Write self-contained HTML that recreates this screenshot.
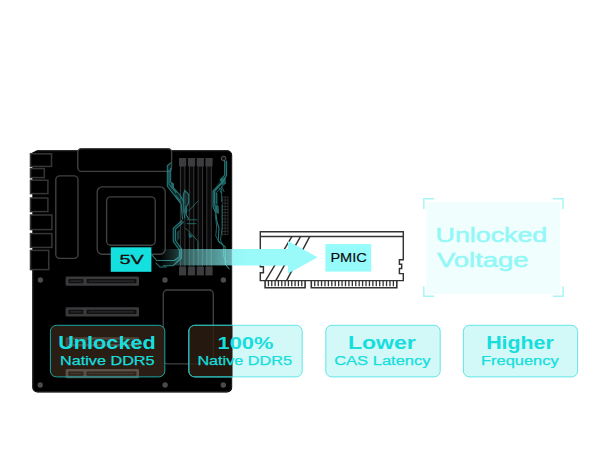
<!DOCTYPE html>
<html>
<head>
<meta charset="utf-8">
<title>Unlocked Native DDR5</title>
<style>
html,body{margin:0;padding:0;background:#fff;}
body{width:607px;height:450px;overflow:hidden;}
svg{display:block;}
text{font-family:"Liberation Sans","DejaVu Sans",sans-serif;}
.b{font-weight:bold;}
</style>
</head>
<body>
<svg width="607" height="450" viewBox="0 0 607 450">
<defs>
  <linearGradient id="beam" x1="0" y1="0" x2="1" y2="0">
    <stop offset="0" stop-color="#7fefef" stop-opacity="0"/>
    <stop offset="0.45" stop-color="#7fefef" stop-opacity="0.45"/>
    <stop offset="1" stop-color="#8df6f6" stop-opacity="0.74"/>
  </linearGradient>
  <linearGradient id="beam2" gradientUnits="userSpaceOnUse" x1="232" y1="0" x2="250" y2="0">
    <stop offset="0" stop-color="#95f7f7"/>
    <stop offset="1" stop-color="#9afafa"/>
  </linearGradient>
  <clipPath id="boardclip"><rect x="32.3" y="150" width="200" height="242.5" rx="5"/></clipPath>
  <clipPath id="offboard"><rect x="232.3" y="300" width="100" height="100"/></clipPath>
</defs>

<!-- ===== Motherboard ===== -->
<g id="board">
  <path d="M37 150.2 H227.2 a5 5 0 0 1 5 5 V387.4 a5 5 0 0 1 -5 5 H37.3 a5 5 0 0 1 -5 -5 V153.6 H30.4 Z" fill="#000"/>
  <!-- soft edge -->
  <path d="M37.4 150.9 H227 a4.5 4.5 0 0 1 4.5 4.5 V387.2 a4.5 4.5 0 0 1 -4.5 4.5 H37.5 a4.5 4.5 0 0 1 -4.5 -4.5 V270" fill="none" stroke="#1f1f20" stroke-width="1"/>

  <!-- IO ports -->
  <g fill="#000" stroke="#363638" stroke-width="1.5">
    <rect x="30.5" y="153.8" width="21" height="12.6"/>
    <rect x="30.5" y="168.6" width="13.8" height="9"/>
    <rect x="30.5" y="180.2" width="17.4" height="13.4"/>
    <rect x="30.5" y="198" width="17.4" height="13.6"/>
    <rect x="30.5" y="215" width="21.4" height="14.6"/>
    <rect x="30.5" y="233.6" width="21.4" height="13.8"/>
    <rect x="30.5" y="250.4" width="18.2" height="19.2"/>
  </g>

  <!-- component outlines -->
  <g fill="#000" stroke="#424244" stroke-width="1.35">
    <rect x="77.8" y="148.6" width="93.8" height="22.8" rx="3.5"/>
    <rect x="55.8" y="175.8" width="22.2" height="82.6" rx="4"/>
    <rect x="97.2" y="186.8" width="68" height="67.4" rx="5"/>
    <rect x="106.6" y="196.8" width="48.6" height="48.4" rx="4"/>
    <rect x="163.3" y="290" width="50" height="73.8" rx="4"/>
  </g>

  <!-- PCIe slots -->
  <g>
    <rect x="65.6" y="276.5" width="73.4" height="9.3" rx="1.2" fill="#3a3a3d"/>
    <rect x="68.4" y="279.0" width="15" height="4.3" rx="0.8" fill="#111"/>
    <rect x="86.6" y="279.0" width="49.8" height="4.3" rx="0.8" fill="#111"/>
    <path d="M70.4 281.15H81.6 M88.6 281.15H134" stroke="#2c2c2f" stroke-width="1.1" fill="none"/>
    <rect x="65.6" y="307.2" width="73.4" height="9.3" rx="1.2" fill="#3a3a3d"/>
    <rect x="68.4" y="309.7" width="15" height="4.3" rx="0.8" fill="#111"/>
    <rect x="86.6" y="309.7" width="49.8" height="4.3" rx="0.8" fill="#111"/>
    <path d="M70.4 311.85H81.6 M88.6 311.85H134" stroke="#2c2c2f" stroke-width="1.1" fill="none"/>
    <rect x="65.6" y="337.2" width="73.4" height="9.3" rx="1.2" fill="#3a3a3d"/>
    <rect x="68.4" y="339.7" width="15" height="4.3" rx="0.8" fill="#111"/>
    <rect x="86.6" y="339.7" width="49.8" height="4.3" rx="0.8" fill="#111"/>
    <path d="M70.4 341.85H81.6 M88.6 341.85H134" stroke="#2c2c2f" stroke-width="1.1" fill="none"/>
    <rect x="65.6" y="368.9" width="73.4" height="9.3" rx="1.2" fill="#3a3a3d"/>
    <rect x="68.4" y="371.4" width="15" height="4.3" rx="0.8" fill="#111"/>
    <rect x="86.6" y="371.4" width="49.8" height="4.3" rx="0.8" fill="#111"/>
    <path d="M70.4 373.55H81.6 M88.6 373.55H134" stroke="#2c2c2f" stroke-width="1.1" fill="none"/>
  </g>

  <!-- screw holes -->
  <g fill="#4a4a4c">
    <circle cx="40.4" cy="280" r="2.7"/>
    <circle cx="165" cy="280" r="2.7"/>
    <circle cx="223.4" cy="280" r="2.7"/>
    <circle cx="40.2" cy="385" r="2.7"/>
    <circle cx="165.1" cy="385" r="2.7"/>
    <circle cx="223.3" cy="385" r="2.7"/>
    <circle cx="223.6" cy="158.5" r="2.3" fill="#161616" stroke="#58585a" stroke-width="1"/>
  </g>

  <!-- RAM slots -->
  <g>
    <g fill="#0a0a0a" stroke="#38383a" stroke-width="1">
      <rect x="180.4" y="166" width="4.5" height="101"/>
      <rect x="189.3" y="166" width="4.5" height="101"/>
      <rect x="198.1" y="166" width="4.5" height="101"/>
      <rect x="206.8" y="166" width="4.5" height="101"/>
    </g>
    <g fill="#3c3c3e">
      <rect x="179" y="158" width="7.2" height="8.2"/>
      <rect x="187.9" y="158" width="7.2" height="8.2"/>
      <rect x="196.7" y="158" width="7.2" height="8.2"/>
      <rect x="205.4" y="158" width="7.2" height="8.2"/>
      <rect x="179" y="267" width="7.2" height="8.4"/>
      <rect x="187.9" y="267" width="7.2" height="8.4"/>
      <rect x="196.7" y="267" width="7.2" height="8.4"/>
      <rect x="205.4" y="267" width="7.2" height="8.4"/>
    </g>
  </g>

  <!-- ATX connector grid -->
  <g fill="none" stroke="#444" stroke-width="0.6">
    <rect x="222.2" y="197" width="5.8" height="37.5"/>
    <path d="M225.1 197V234.5 M222.2 200.1h5.8 M222.2 203.2h5.8 M222.2 206.4h5.8 M222.2 209.5h5.8 M222.2 212.6h5.8 M222.2 215.7h5.8 M222.2 218.9h5.8 M222.2 222h5.8 M222.2 225.1h5.8 M222.2 228.2h5.8 M222.2 231.4h5.8"/>
  </g>

  <!-- cyan circuit traces -->
  <g stroke-linejoin="round" stroke-linecap="round">
    <!-- translucent bands -->
    <g fill="#2a8787" fill-opacity="0.3" stroke="none">
      <path d="M170.7 163 L167.3 165.7 V186.3 L181.3 204.3 L182 213.5 L184.2 213 L183.6 201 L180 195 L173.3 187.7 V183.7 L170.7 182.3 Z"/>
      <path d="M181.8 220.5 L173.2 228.3 V241.5 L179.4 250 V257 L174.8 261 L176.6 262.4 L181.4 258 V248.6 L175.6 240.5 V229.2 L183.3 222 Z"/>
      <path d="M224.7 161 H226.6 V175.6 L223.6 181 L214.6 191.6 V207 H213 V191 L220.3 179.7 L224.7 175 Z"/>
      <path d="M213 191 L218.2 193 V207 L219 213.7 L215.6 213.7 L213.7 207 Z"/>
      <path d="M184.7 190.3 L188.7 194.3 V203 L186 207.7 L183.3 201.7 V195 Z"/>
    </g>
    <!-- solid little blocks -->
    <g fill="#2b8585" fill-opacity="0.7" stroke="none">
      <path d="M171.3 183 L173.3 184 V188.3 L171.3 187 Z"/>
      <path d="M175.3 193.7 L180 199.7 V203 L175.3 197 Z"/>
      <path d="M220.2 179.2 L225.6 177 L226 183.6 L221.4 185.4 Z"/>
      <path d="M214.4 204.3 L218.6 206 L219 213.7 L215.4 212 Z"/>
      <path d="M185.2 205 L187.6 209 L186.4 215 L184.2 211.6 Z"/>
      <path d="M188.2 232.4 L193 236.4 L189.4 238.2 Z"/>
      <path d="M176.8 232 L179.6 229.6 V238.6 L176.8 241.4 Z" fill-opacity="0.45"/>
    </g>
    <g fill="none" stroke="#277c7c" stroke-width="1.05">
      <!-- left, upper -->
      <path d="M170.7 163 L167.3 165.7 V186.3 L181.3 204.3 L182 213.7 L182.6 219"/>
      <path d="M170.7 168.3 V182.3 L173.3 183.7 V187.7 L180 195 L183.5 201 L184 213 L184.8 218"/>
      <path d="M169 170 V184 L176 192.6"/>
      <path d="M184.7 190.3 L188.7 194.3 V203 L186 207.7 V214.6 L188.4 218.4"/>
      <path d="M184.7 190.3 L183.3 195 V201.7"/>
      <path d="M198 201 L188.7 211" stroke-width="0.8"/>
      <path d="M187 219.8 H197 M187 223.7 H196" stroke-width="0.8"/>
      <!-- left, lower -->
      <path d="M181.8 220.5 L173.2 228.3 V241.5 L179.4 250 V257 L174 260.5 H156.7 L152 255.2"/>
      <path d="M183.3 222 L175.6 229.2 V240.5 L181.4 248.6 V258 L173.2 265.7 H163.3"/>
      <path d="M185.7 228.3 L193.4 236 L198 241.5 V250" stroke-width="0.8"/>
      <path d="M156 263 L160 267 H166.4"/>
      <!-- right, upper -->
      <path d="M224.7 161 V175 L220.3 179.7 L223.7 181 L213 191 V207 L215.9 213 L217 222 L219 228 L218.2 240.8 L225.2 247 V264 L229.1 268.8"/>
      <path d="M226.6 161 V175.6 L223.6 181 L214.6 191.6 V204"/>
      <path d="M225 183.6 L216.4 192.4 V203.5" stroke-width="0.8"/>
      <path d="M221.7 188.3 V201.7 M221.4 186 L224 191.5 M219.6 188 L221 193" stroke-width="0.8"/>
      <path d="M222.1 205 V228 L220.5 240 L223.4 246.5 V256 L226.6 262" stroke-width="0.8"/>
      <path d="M215.2 214 L216.6 226 L215.8 236 L219.6 243" stroke-width="0.8"/>
    </g>
  </g>
</g>

<!-- ===== Beam / arrow ===== -->
<g id="beam-group">
  <rect x="160" y="249" width="72.3" height="16.4" fill="url(#beam)"/>
  <path d="M232.3 249 H288 V241 L317.3 257.3 L288 273.6 V265.5 H232.3 Z" fill="url(#beam2)"/>
</g>

<!-- 5V chip -->
<rect x="110.8" y="247.3" width="40.6" height="24.5" fill="#14e0e0"/>
<text x="119.6" y="263.8" font-size="13" fill="#1a0e0a" textLength="24.2" lengthAdjust="spacingAndGlyphs" stroke="#1a0e0a" stroke-width="0.3">5V</text>

<!-- ===== RAM module ===== -->
<g id="dimm" fill="none" stroke="#333" stroke-width="1.45" stroke-linejoin="miter">
  <path d="M260.3 231.8 H403.3 V259.8 H399.4 V264.3 H401.7 V268.5 H399.4 V273.6 H403.3 V280.6 H260.3 V272.8 H263.4 V266.8 H260.3 Z"/>
  <path d="M260.3 236.4 H403.3"/>
  <!-- diagonal stripes (hidden under arrow partly) -->
  <path d="M292 236.4 L265.6 280.6 M300.6 236.4 L275.8 280.6 M309.8 236.4 L286.6 280.6"/>
  <!-- pins -->
  <path d="M265.1 280.6V287.7H305.1V280.6" stroke-width="1.6"/>
  <path d="M268.43 281V286.2M271.77 281V286.2M275.10 281V286.2M278.43 281V286.2M281.77 281V286.2M285.10 281V286.2M288.43 281V286.2M291.77 281V286.2M295.10 281V286.2M298.43 281V286.2M301.77 281V286.2" stroke-width="1.3"/>
  <path d="M311.3 280.6V287.7H396.8V280.6" stroke-width="1.6"/>
  <path d="M314.72 281V286.2M318.14 281V286.2M321.56 281V286.2M324.98 281V286.2M328.40 281V286.2M331.82 281V286.2M335.24 281V286.2M338.66 281V286.2M342.08 281V286.2M345.50 281V286.2M348.92 281V286.2M352.34 281V286.2M355.76 281V286.2M359.18 281V286.2M362.60 281V286.2M366.02 281V286.2M369.44 281V286.2M372.86 281V286.2M376.28 281V286.2M379.70 281V286.2M383.12 281V286.2M386.54 281V286.2M389.96 281V286.2M393.38 281V286.2" stroke-width="1.3"/>
</g>
<!-- arrow on top of dimm -->
<path d="M259 249 H288 V241 L317.3 257.3 L288 273.6 V265.5 H259 Z" fill="url(#beam2)"/>
<!-- PMIC -->
<rect x="325.4" y="244.1" width="45.8" height="27.5" fill="#96fbfb"/>
<text x="330.4" y="261.8" font-size="13.2" fill="#0a0a0a" textLength="36.4" lengthAdjust="spacingAndGlyphs" stroke="#0a0a0a" stroke-width="0.15">PMIC</text>

<!-- ===== Unlocked Voltage panel ===== -->
<g id="voltage">
  <rect x="426.4" y="201.9" width="133.8" height="92" fill="#f0fefe"/>
  <path d="M423.8 209 V198.8 H434 M552.8 198.8 H563.1 V209 M563.1 286.2 V296.3 H552.8 M434 296.3 H423.8 V286.2" fill="none" stroke="#a6f6f6" stroke-width="1.5"/>
  <text x="435.6" y="241.6" font-size="20" fill="#92f7f7" textLength="111.6" lengthAdjust="spacingAndGlyphs" stroke="#92f7f7" stroke-width="0.5">Unlocked</text>
  <text x="437" y="266.8" font-size="20" fill="#92f7f7" textLength="91.6" lengthAdjust="spacingAndGlyphs" stroke="#92f7f7" stroke-width="0.5">Voltage</text>
</g>

<!-- ===== Label boxes ===== -->
<g id="labels">
  <!-- box 1 : on board -->
  <clipPath id="box1clip"><rect x="50.4" y="325.3" width="114.4" height="53" rx="6"/></clipPath>
  <rect x="50.4" y="325.3" width="114.4" height="51.6" rx="6" fill="#2a1d14"/>
  <g clip-path="url(#box1clip)">
    <rect x="65.6" y="337.2" width="73.4" height="9.3" rx="1.2" fill="#51463d"/>
    <rect x="68.4" y="339.7" width="15" height="4.3" rx="0.8" fill="#30241b"/>
    <rect x="86.6" y="339.7" width="49.8" height="4.3" rx="0.8" fill="#30241b"/>
    <path d="M70.4 341.85H81.6 M88.6 341.85H134" stroke="#463b32" stroke-width="1.1" fill="none"/>
    <rect x="65.6" y="368.9" width="73.4" height="9.3" rx="1.2" fill="#5a5047"/>
    <rect x="68.4" y="371.4" width="15" height="4.3" rx="0.8" fill="#30241b"/>
    <rect x="86.6" y="371.4" width="49.8" height="4.3" rx="0.8" fill="#30241b"/>
    <path d="M70.4 373.55H81.6 M88.6 373.55H134" stroke="#463b32" stroke-width="1.1" fill="none"/>
  </g>
  <rect x="50.4" y="325.3" width="114.4" height="51.6" rx="6" fill="none" stroke="#1aa3a3" stroke-width="1"/>
  <!-- box 2 : half on board -->
  <rect x="188.8" y="325.3" width="113.4" height="51.6" rx="6" fill="#d2f8f8"/>
  <g clip-path="url(#boardclip)">
    <rect x="188.8" y="325.3" width="113.4" height="51.6" rx="6" fill="#000"/>
    <path d="M213.3 325V363.8 H189" fill="none" stroke="#6a6058" stroke-width="1.35"/>
    <rect x="188.8" y="325.3" width="113.4" height="51.6" rx="6" fill="#2a1c12" fill-opacity="0.86"/>
  </g>
  <rect x="188.8" y="325.3" width="113.4" height="51.6" rx="6" fill="none" stroke="#63e6e6" stroke-width="1"/>
  <g clip-path="url(#boardclip)">
    <rect x="188.8" y="325.3" width="113.4" height="51.6" rx="6" fill="none" stroke="#1aa8a8" stroke-width="1"/>
  </g>
  <!-- box 3, 4 -->
  <rect x="325.8" y="325.3" width="114.4" height="51.6" rx="6" fill="#d2f8f8" stroke="#63e6e6" stroke-width="1"/>
  <rect x="463.4" y="325.3" width="114.2" height="51.6" rx="6" fill="#d2f8f8" stroke="#63e6e6" stroke-width="1"/>

  <g fill="#17dddd">
    <text class="b" x="58.2" y="348.9" font-size="18" textLength="97.6" lengthAdjust="spacingAndGlyphs">Unlocked</text>
    <text stroke="#17dddd" stroke-width="0.25" x="60" y="365.1" font-size="12.4" textLength="94.6" lengthAdjust="spacingAndGlyphs">Native DDR5</text>

    <text class="b" x="217.6" y="348.7" font-size="16.8" textLength="55.8" lengthAdjust="spacingAndGlyphs">100%</text>
    <text stroke="#17dddd" stroke-width="0.25" x="197.4" y="365.1" font-size="12.4" textLength="94.6" lengthAdjust="spacingAndGlyphs">Native DDR5</text>

    <text class="b" x="348" y="349" font-size="17.5" textLength="67.8" lengthAdjust="spacingAndGlyphs">Lower</text>
    <text stroke="#17dddd" stroke-width="0.25" x="334.2" y="365.3" font-size="12.5" textLength="96.4" lengthAdjust="spacingAndGlyphs">CAS Latency</text>

    <text class="b" x="486.2" y="349" font-size="17.5" textLength="67.6" lengthAdjust="spacingAndGlyphs">Higher</text>
    <text stroke="#17dddd" stroke-width="0.25" x="481" y="365.3" font-size="12.5" textLength="77.6" lengthAdjust="spacingAndGlyphs">Frequency</text>
  </g>
</g>
</svg>
</body>
</html>
